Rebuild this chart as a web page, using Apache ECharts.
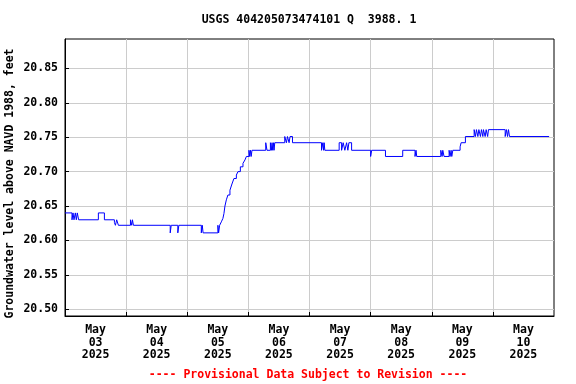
<!DOCTYPE html>
<html><head><meta charset="utf-8">
<script src="https://cdn.jsdelivr.net/npm/echarts@6/dist/echarts.min.js"></script>
<style>html,body{margin:0;padding:0;background:#fff}#c{width:576px;height:384px}</style>
</head><body><div id="c"></div><script>
const titleText = 'USGS 404205073474101 Q  3988. 1';
const yAxisName = 'Groundwater level above NAVD 1988, feet';
const footerText = '---- Provisional Data Subject to Revision ----';
const xMin = '2025-05-03 00:00';
const xMax = '2025-05-11 00:00';
const dayTicks = ['2025-05-04','2025-05-05','2025-05-06','2025-05-07','2025-05-08','2025-05-09','2025-05-10'];
const dayLabels = ['2025-05-03 12:00','2025-05-04 12:00','2025-05-05 12:00','2025-05-06 12:00','2025-05-07 12:00','2025-05-08 12:00','2025-05-09 12:00','2025-05-10 12:00'];
const yTicks = [20.50,20.55,20.60,20.65,20.70,20.75,20.80,20.85];
const yMin = 20.4902, yMax = 20.8927;
const times = [
'2025-05-03 00:00','2025-05-03 02:45','2025-05-03 03:09','2025-05-03 03:32','2025-05-03 04:03','2025-05-03 04:27','2025-05-03 04:50','2025-05-03 05:21',
'2025-05-03 13:06','2025-05-03 15:28','2025-05-03 19:24','2025-05-03 19:48','2025-05-03 20:18','2025-05-03 20:58',
'2025-05-04 01:42','2025-05-04 02:12','2025-05-04 02:29','2025-05-04 02:52','2025-05-04 17:19','2025-05-04 17:42','2025-05-04 20:18','2025-05-04 20:42',
'2025-05-05 05:31','2025-05-05 05:54','2025-05-05 06:13','2025-05-05 12:02','2025-05-05 12:19','2025-05-05 12:43','2025-05-05 13:23','2025-05-05 14:00',
'2025-05-05 14:24','2025-05-05 14:48','2025-05-05 15:21','2025-05-05 15:58','2025-05-05 16:46','2025-05-05 17:33','2025-05-05 18:20','2025-05-05 19:17',
'2025-05-05 19:55','2025-05-05 20:51','2025-05-05 21:53','2025-05-05 22:40','2025-05-05 23:13',
'2025-05-06 00:14','2025-05-06 00:31','2025-05-06 00:50','2025-05-06 01:06','2025-05-06 01:25','2025-05-06 06:49','2025-05-06 07:19','2025-05-06 08:39',
'2025-05-06 09:03','2025-05-06 09:17','2025-05-06 09:34','2025-05-06 09:50','2025-05-06 10:05','2025-05-06 10:21','2025-05-06 14:17','2025-05-06 14:57',
'2025-05-06 15:21','2025-05-06 15:59','2025-05-06 16:22','2025-05-06 17:19',
'2025-05-07 04:43','2025-05-07 05:14','2025-05-07 05:31','2025-05-07 05:45','2025-05-07 06:01','2025-05-07 11:39','2025-05-07 12:36','2025-05-07 13:13',
'2025-05-07 13:53','2025-05-07 14:34','2025-05-07 15:04','2025-05-07 15:28','2025-05-07 16:32',
'2025-05-08 00:00','2025-05-08 00:24','2025-05-08 05:50','2025-05-08 12:36','2025-05-08 17:26','2025-05-08 17:50','2025-05-08 18:06',
'2025-05-09 03:33','2025-05-09 04:04','2025-05-09 04:20','2025-05-09 04:50','2025-05-09 06:49','2025-05-09 07:12','2025-05-09 07:36','2025-05-09 07:52',
'2025-05-09 08:16','2025-05-09 11:08','2025-05-09 11:32','2025-05-09 13:13','2025-05-09 16:39','2025-05-09 17:09','2025-05-09 17:33','2025-05-09 18:06',
'2025-05-09 18:30','2025-05-09 19:07','2025-05-09 19:31','2025-05-09 20:04','2025-05-09 20:18','2025-05-09 20:58','2025-05-09 21:22','2025-05-09 21:57',
'2025-05-09 22:16',
'2025-05-10 04:50','2025-05-10 05:21','2025-05-10 05:45','2025-05-10 06:08','2025-05-10 06:32','2025-05-10 22:05'
];
const levels = [
20.64,20.63,20.64,20.63,20.64,20.63,20.64,20.63,
20.64,20.63,20.626,20.622,20.63,20.622,
20.63,20.622,20.63,20.622,20.611,20.622,20.611,20.622,
20.611,20.622,20.611,20.622,20.611,20.622,20.627,20.632,
20.639,20.650,20.659,20.666,20.673,20.682,20.690,20.695,
20.700,20.707,20.712,20.717,20.722,
20.731,20.722,20.731,20.722,20.731,20.742,20.731,20.742,
20.731,20.742,20.731,20.742,20.731,20.742,20.751,20.742,
20.751,20.742,20.751,20.742,
20.731,20.742,20.731,20.742,20.731,20.742,20.731,20.742,
20.731,20.742,20.731,20.742,20.731,
20.722,20.731,20.722,20.731,20.722,20.731,20.722,
20.731,20.722,20.731,20.722,20.731,20.722,20.731,20.722,
20.731,20.736,20.742,20.751,20.761,20.751,20.761,20.751,
20.761,20.751,20.761,20.751,20.761,20.751,20.761,20.751,
20.761,
20.751,20.761,20.751,20.761,20.751,20.751
];
const months = ['Jan','Feb','Mar','Apr','May','Jun','Jul','Aug','Sep','Oct','Nov','Dec'];
const toTs = s => { const [d, t] = s.split(' '); const [Y,M,D] = d.split('-').map(Number); const [h,m] = (t||'00:00').split(':').map(Number); return Date.UTC(Y, M-1, D, h, m); };
const FONT = 'DejaVu Sans Mono';
const chart = echarts.init(document.getElementById('c'), null, {renderer:'canvas'});
chart.setOption({
  animation: false,
  backgroundColor: '#ffffff',
  title: [
    {text: titleText, left: 309, top: 14, padding: 0, textAlign: 'center',
     textStyle: {fontFamily: FONT, fontWeight: 'bold', fontSize: 11.5, color: '#000'}},
    {text: footerText, left: 308, top: 369, padding: 0, textAlign: 'center',
     textStyle: {fontFamily: FONT, fontWeight: 'bold', fontSize: 11.5, color: '#ff0000'}}
  ],
  grid: {left: 65, right: 22, top: 39, bottom: 68, show: true, borderColor: '#000', borderWidth: 1,
    backgroundColor: 'transparent', containLabel: false, outerBoundsMode: 'none'},
  xAxis: {
    type: 'value', min: toTs(xMin), max: toTs(xMax),
    axisLine: {show: true, lineStyle: {color: '#000'}},
    axisTick: {show: true, inside: true, length: 4, lineStyle: {color: '#000'}, customValues: dayTicks.map(toTs)},
    splitLine: {show: true, lineStyle: {color: '#cccccc', width: 1}},
    axisLabel: {
      customValues: dayLabels.map(toTs), margin: 8, lineHeight: 12.5,
      fontFamily: FONT, fontWeight: 'bold', fontSize: 11.5, color: '#000', hideOverlap: false,
      formatter: v => { const d = new Date(v); return months[d.getUTCMonth()] + '\n' + String(d.getUTCDate()).padStart(2,'0') + '\n' + d.getUTCFullYear(); }
    }
  },
  yAxis: {
    type: 'value', min: yMin, max: yMax,
    name: yAxisName, nameLocation: 'middle', nameGap: 49, nameRotate: 90, nameMoveOverlap: false,
    nameTextStyle: {fontFamily: FONT, fontWeight: 'bold', fontSize: 11.5, color: '#000', padding: [0, 12, 0, 0]},
    axisLine: {show: true, lineStyle: {color: '#000'}},
    axisTick: {show: true, inside: true, length: 4, lineStyle: {color: '#000'}, customValues: yTicks},
    splitLine: {show: true, lineStyle: {color: '#cccccc', width: 1}},
    axisLabel: {customValues: yTicks, margin: 7, fontFamily: FONT, fontWeight: 'bold', fontSize: 11.5, color: '#000',
      formatter: v => v.toFixed(2)}
  },
  series: [{
    type: 'line', step: 'end', showSymbol: false, symbol: 'none',
    lineStyle: {color: '#0000ff', width: 1},
    data: times.map((t, i) => [toTs(t), levels[i]])
  }]
});
</script></body></html>
